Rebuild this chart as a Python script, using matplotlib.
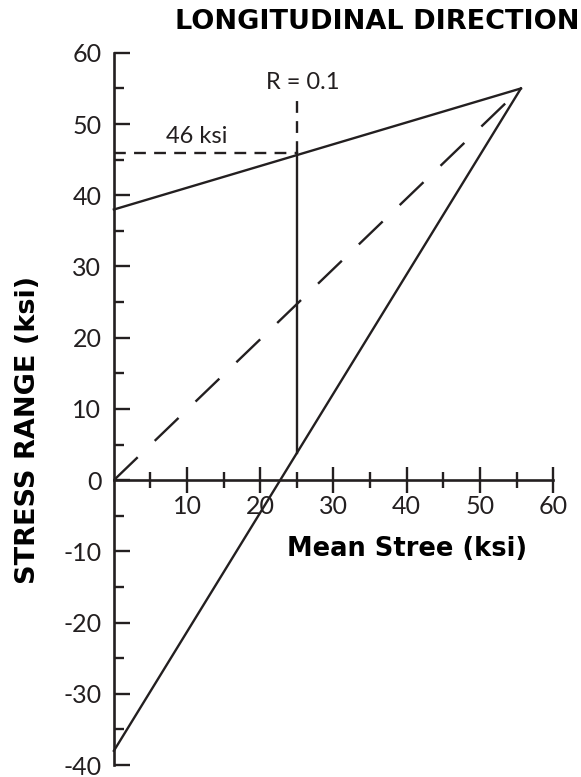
import matplotlib.pyplot as plt
import numpy as np

plt.rcParams['font.family'] = ['Lato', 'DejaVu Sans']

# Goodman-type diagram points (mean stress, stress range), ksi
apex = (55.6, 55.0)
upper_start = (0.0, 38.0)
lower_start = (0.0, -38.0)
r_line_x = 25.0
r_line_bottom = 3.8
allowable = 46.0
r_dash_top = 53.7

xticks = [10, 20, 30, 40, 50, 60]
yticks = [-40, -30, -20, -10, 0, 10, 20, 30, 40, 50, 60]

fig = plt.figure(figsize=(5.81, 7.77), dpi=100)
ax = fig.add_axes([0.196, 0.0154, 0.756, 0.9166])

lc = '#231f20'
ax.plot([upper_start[0], apex[0]], [upper_start[1], apex[1]], color=lc, lw=1.7, clip_on=False)
ax.plot([lower_start[0], apex[0]], [lower_start[1], apex[1]], color=lc, lw=1.7, clip_on=False)
ax.plot([0, apex[0]], [0, apex[1]], color=lc, lw=1.7, dashes=(14, 10), clip_on=False)
ax.plot([r_line_x, r_line_x], [r_line_bottom, allowable], color=lc, lw=1.7)
ax.plot([0, r_line_x], [allowable, allowable], color=lc, lw=1.7, dashes=(5, 3.5))
ax.plot([r_line_x, r_line_x], [allowable, r_dash_top], color=lc, lw=1.7, dashes=(5, 3.5))

ax.text(r_line_x + 0.8, 55.8, 'R = 0.1', ha='center', va='center', fontsize=17, color=lc)
ax.text(11.3, 48.3, '46 ksi', ha='center', va='center', fontsize=17, color=lc)

ax.set_xlim(0, 60)
ax.set_ylim(-40, 60)
for s in ['top', 'right']:
    ax.spines[s].set_visible(False)
ax.spines['left'].set_position(('data', 0))
ax.spines['bottom'].set_position(('data', 0))
for s in ['left', 'bottom']:
    ax.spines[s].set_linewidth(1.9)
    ax.spines[s].set_color(lc)

ax.set_xticks(xticks)
ax.set_xticks(np.arange(5, 60, 10), minor=True)
ax.set_yticks(yticks)
ax.set_yticks(np.arange(-35, 60, 10), minor=True)
ax.set_xticklabels([str(v) for v in xticks])
ax.set_yticklabels([str(v) for v in yticks])

ax.tick_params(axis='x', which='major', direction='inout', length=19, width=1.7,
               colors=lc, labelsize=18, pad=1)
ax.tick_params(axis='x', which='minor', direction='inout', length=12, width=1.7, colors=lc)
ax.tick_params(axis='y', which='major', direction='in', length=11.5, width=1.7,
               colors=lc, labelsize=18, pad=9)
ax.tick_params(axis='y', which='minor', direction='in', length=7, width=1.7, colors=lc)

bold = ['DejaVu Sans']
fig.text(0.649, 0.9715, 'LONGITUDINAL DIRECTION', ha='center', va='center',
         fontsize=19.5, fontweight='bold', family=bold, color='black')
fig.text(0.700, 0.294, 'Mean Stree (ksi)', ha='center', va='center',
         fontsize=18.5, fontweight='bold', family=bold, color='black')
fig.text(0.048, 0.447, 'STRESS RANGE (ksi)', ha='center', va='center', rotation=90,
         fontsize=19.5, fontweight='bold', family=bold, color='black')

plt.savefig('out.png', dpi=100)
